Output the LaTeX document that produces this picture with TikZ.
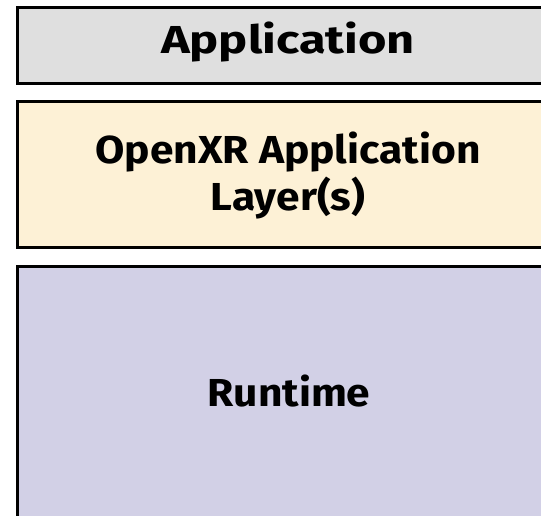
\documentclass[tikz,border=0pt]{standalone}
\usepackage{fontspec}
\setmainfont{Fira Sans}
\newfontfamily\wideheadfont{Fira Sans}[FakeStretch=1.25]
\newfontfamily\widebodyfont{Fira Sans}[FakeStretch=1.09]
\begin{document}
\begin{tikzpicture}[x=1pt,y=-1pt,
  layerbox/.style={draw=black, line width=3pt, anchor=north west, inner sep=0pt},
  lbl/.style={font=\widebodyfont\bfseries\fontsize{39}{47}\selectfont, align=center, text=black, anchor=base, inner sep=0pt},
  headlbl/.style={lbl, font=\wideheadfont\bfseries\fontsize{39}{47}\selectfont}]
\useasboundingbox (0,0) rectangle (541,516);
\clip (0,0) rectangle (541,516);
\definecolor{appgray}{HTML}{DFDFDF}
\definecolor{layeryellow}{HTML}{FDF1D6}
\definecolor{runtimepurple}{HTML}{D2D0E6}
\node[layerbox, fill=appgray, minimum width=560pt, minimum height=76pt] (appbox) at (16,6) {};
\node[layerbox, fill=layeryellow, minimum width=560pt, minimum height=146pt] (layerbox1) at (16,100) {};
\node[layerbox, fill=runtimepurple, minimum width=560pt, minimum height=300pt] (rtbox) at (16,265) {};
\node[headlbl] (app) at (288,54) {Application};
\node[lbl] (layers) at (288,210) {OpenXR Application\\Layer(s)};
\node[lbl] (rt) at (289,406) {Runtime};
\end{tikzpicture}
\end{document}
